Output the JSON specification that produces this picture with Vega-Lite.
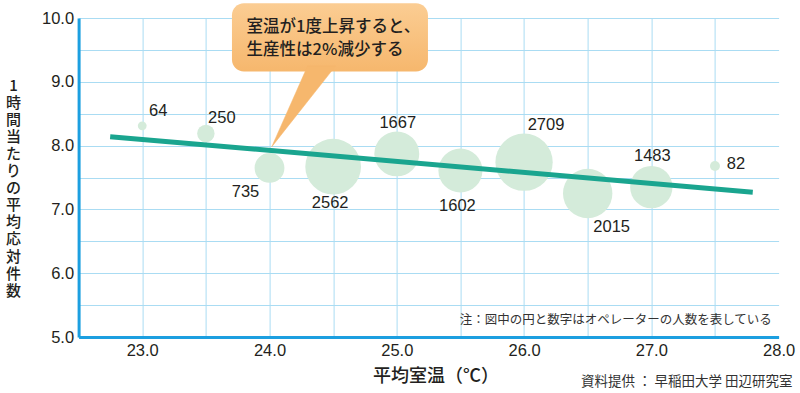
{
  "$schema": "https://vega.github.io/schema/vega-lite/v6.json",
  "width": 700,
  "height": 319,
  "autosize": {"type": "none"},
  "padding": {"left": 78.6, "top": 18, "right": 21.4, "bottom": 56},
  "background": "white",
  "config": {"view": {"stroke": null}, "font": "Noto Sans CJK JP"},
  "datasets": {
    "bubbles": [
      {"temp": 23.0, "rate": 8.31, "n": 64, "side": "ur"},
      {"temp": 23.5, "rate": 8.19, "n": 250, "side": "ur"},
      {"temp": 24.0, "rate": 7.65, "n": 735, "side": "bl"},
      {"temp": 24.5, "rate": 7.67, "n": 2562, "side": "below"},
      {"temp": 25.0, "rate": 7.87, "n": 1667, "side": "above"},
      {"temp": 25.5, "rate": 7.61, "n": 1602, "side": "below"},
      {"temp": 26.0, "rate": 7.74, "n": 2709, "side": "ar"},
      {"temp": 26.5, "rate": 7.25, "n": 2015, "side": "br"},
      {"temp": 27.0, "rate": 7.35, "n": 1483, "side": "above"},
      {"temp": 27.5, "rate": 7.68, "n": 82, "side": "right"}
    ],
    "trend": [
      {"temp": 22.748, "rate": 8.14},
      {"temp": 27.797, "rate": 7.27}
    ],
    "box": [{"temp": 23.705, "rate": 10.23, "temp2": 25.245, "rate2": 9.16}],
    "tail": [
      {"temp": 24.017, "rate": 7.98, "o": 1},
      {"temp": 24.30, "rate": 9.25, "o": 2},
      {"temp": 24.52, "rate": 9.25, "o": 3}
    ],
    "calloutText": [{"temp": 23.82, "rate": 9.86, "t": ["室温が1度上昇すると、", "生産性は2%減少する"]}],
    "note": [{"temp": 27.947, "rate": 5.27, "t": "注：図中の円と数字はオペレーターの人数を表している"}],
    "source": [{"temp": 28.11, "rate": 4.294, "t": "資料提供 ： 早稲田大学 田辺研究室"}]
  },
  "encoding": {
    "x": {
      "field": "temp",
      "type": "quantitative",
      "scale": {"domain": [22.5, 28], "nice": false, "zero": false},
      "axis": {
        "values": [22.5, 23, 23.5, 24, 24.5, 25, 25.5, 26, 26.5, 27, 27.5, 28],
        "labelExpr": "datum.value % 1 == 0 ? format(datum.value, '.1f') : ''",
        "grid": true,
        "gridColor": "#aadcf3",
        "gridWidth": 1,
        "gridOpacity": {"condition": {"test": "datum.value == 28", "value": 0}, "value": 1},
        "ticks": false,
        "domainColor": "#1c9fe0",
        "domainWidth": 3,
        "labelFont": "Liberation Sans",
        "labelFontSize": 16.5,
        "labelColor": "#231f20",
        "labelPadding": 5,
        "labelFlush": false,
        "labelOverlap": false,
        "title": "平均室温（℃）",
        "titleFont": "Noto Sans CJK JP",
        "titleFontSize": 18,
        "titleFontWeight": 500,
        "titleColor": "#231f20",
        "titleX": 357,
        "titleY": 39,
        "titleAnchor": null,
        "titleAlign": "center",
        "titleBaseline": "middle"
      }
    },
    "y": {
      "field": "rate",
      "type": "quantitative",
      "scale": {"domain": [5, 10], "nice": false, "zero": false},
      "axis": {
        "values": [5, 5.5, 6, 6.5, 7, 7.5, 8, 8.5, 9, 9.5, 10],
        "labelExpr": "datum.value % 1 == 0 ? format(datum.value, '.1f') : ''",
        "grid": true,
        "gridColor": "#aadcf3",
        "gridWidth": 1,
        "ticks": false,
        "domainColor": "#1c9fe0",
        "domainWidth": 3,
        "labelFont": "Liberation Sans",
        "labelFontSize": 16.5,
        "labelColor": "#231f20",
        "labelPadding": 5,
        "labelFlush": false,
        "labelOverlap": false,
        "title": ["1", "時", "間", "当", "た", "り", "の", "平", "均", "応", "対", "件", "数"],
        "titleFont": "Noto Sans CJK JP",
        "titleFontSize": 15,
        "titleFontWeight": 500,
        "titleColor": "#231f20",
        "titleAngle": 0,
        "titleLineHeight": 17.1,
        "titleX": -65.6,
        "titleY": 67,
        "titleAnchor": null,
        "titleAlign": "center",
        "titleBaseline": "middle"
      }
    }
  },
  "layer": [
    {
      "data": {"name": "box"},
      "mark": {
        "type": "rect",
        "cornerRadius": 12,
        "fill": {"gradient": "linear", "x1": 0, "y1": 0, "x2": 0, "y2": 1, "stops": [{"offset": 0, "color": "#fbcd93"}, {"offset": 1, "color": "#f6b76d"}]}
      },
      "encoding": {
        "x2": {"field": "temp2"},
        "y2": {"field": "rate2"}
      }
    },
    {
      "data": {"name": "tail"},
      "mark": {"type": "line", "interpolate": "linear-closed", "fill": "#f6b76d", "stroke": "#f6b76d", "strokeWidth": 0.5},
      "encoding": {"order": {"field": "o", "type": "quantitative"}}
    },
    {
      "data": {"name": "bubbles"},
      "mark": {"type": "circle", "fill": "#d4ebda", "opacity": 1},
      "encoding": {
        "size": {"field": "n", "type": "quantitative", "scale": {"domain": [0, 2709], "range": [0, 3280]}, "legend": null}
      }
    },
    {
      "data": {"name": "trend"},
      "mark": {"type": "line", "stroke": "#1aa58f", "strokeWidth": 5, "strokeCap": "butt"},
      "encoding": {}
    },
    {
      "data": {"name": "bubbles"},
      "transform": [{"filter": "datum.side == 'ur'"}],
      "mark": {"type": "text", "dx": 16, "dy": -15, "font": "Liberation Sans", "fontSize": 16.5, "fill": "#231f20", "baseline": "middle"},
      "encoding": {"text": {"field": "n", "type": "quantitative", "format": "d"}}
    },
    {
      "data": {"name": "bubbles"},
      "transform": [{"filter": "datum.side == 'bl'"}],
      "mark": {"type": "text", "dx": -24, "dy": 24, "font": "Liberation Sans", "fontSize": 16.5, "fill": "#231f20", "baseline": "middle"},
      "encoding": {"text": {"field": "n", "type": "quantitative", "format": "d"}}
    },
    {
      "data": {"name": "bubbles"},
      "transform": [{"filter": "datum.side == 'below'"}],
      "mark": {"type": "text", "dx": -3, "dy": 36, "font": "Liberation Sans", "fontSize": 16.5, "fill": "#231f20", "baseline": "middle"},
      "encoding": {"text": {"field": "n", "type": "quantitative", "format": "d"}}
    },
    {
      "data": {"name": "bubbles"},
      "transform": [{"filter": "datum.side == 'above'"}],
      "mark": {"type": "text", "dx": 1, "dy": -31, "font": "Liberation Sans", "fontSize": 16.5, "fill": "#231f20", "baseline": "middle"},
      "encoding": {"text": {"field": "n", "type": "quantitative", "format": "d"}}
    },
    {
      "data": {"name": "bubbles"},
      "transform": [{"filter": "datum.side == 'ar'"}],
      "mark": {"type": "text", "dx": 22, "dy": -37, "font": "Liberation Sans", "fontSize": 16.5, "fill": "#231f20", "baseline": "middle"},
      "encoding": {"text": {"field": "n", "type": "quantitative", "format": "d"}}
    },
    {
      "data": {"name": "bubbles"},
      "transform": [{"filter": "datum.side == 'br'"}],
      "mark": {"type": "text", "dx": 24, "dy": 34, "font": "Liberation Sans", "fontSize": 16.5, "fill": "#231f20", "baseline": "middle"},
      "encoding": {"text": {"field": "n", "type": "quantitative", "format": "d"}}
    },
    {
      "data": {"name": "bubbles"},
      "transform": [{"filter": "datum.side == 'right'"}],
      "mark": {"type": "text", "dx": 21, "dy": -2, "font": "Liberation Sans", "fontSize": 16.5, "fill": "#231f20", "baseline": "middle"},
      "encoding": {"text": {"field": "n", "type": "quantitative", "format": "d"}}
    },
    {
      "data": {"name": "calloutText"},
      "mark": {"type": "text", "align": "left", "baseline": "middle", "font": "Noto Sans CJK JP", "fontSize": 16.5, "fontWeight": 500, "lineHeight": 23, "fill": "#231f20"},
      "encoding": {"text": {"field": "t"}}
    },
    {
      "data": {"name": "note"},
      "mark": {"type": "text", "align": "right", "baseline": "middle", "font": "Noto Sans CJK JP", "fontSize": 12.5, "fill": "#333333"},
      "encoding": {"text": {"field": "t"}}
    },
    {
      "data": {"name": "source"},
      "mark": {"type": "text", "align": "right", "baseline": "middle", "font": "Noto Sans CJK JP", "fontSize": 13.5, "fill": "#333333"},
      "encoding": {"text": {"field": "t"}}
    }
  ]
}
